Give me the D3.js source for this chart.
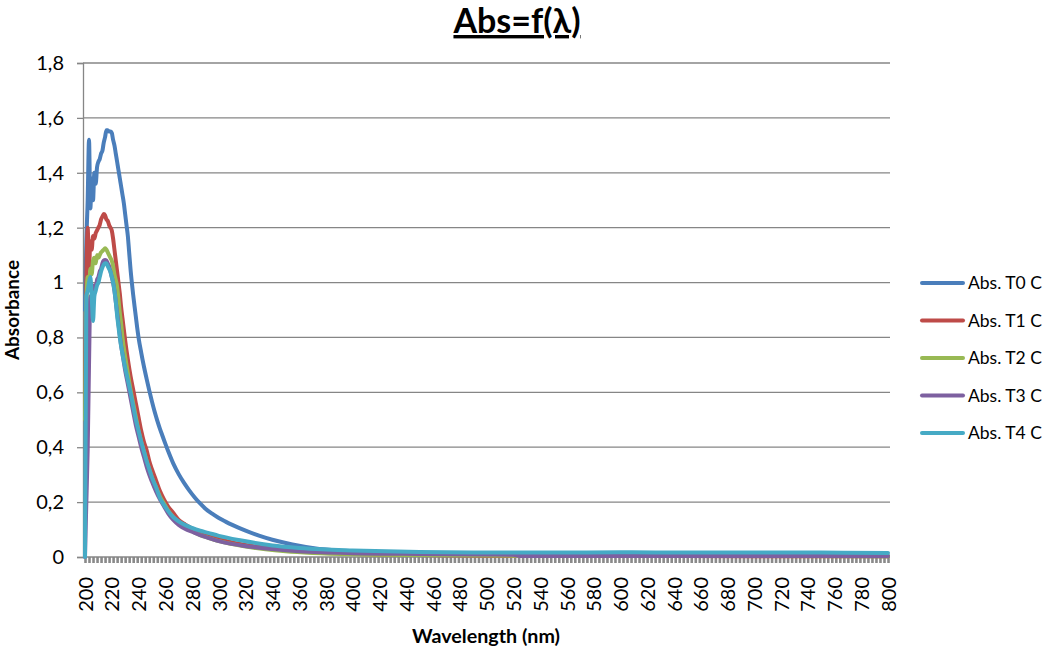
<!DOCTYPE html>
<html>
<head>
<meta charset="utf-8">
<script src="https://cdn.jsdelivr.net/npm/d3@7/dist/d3.min.js"></script>
<style>
  html, body { margin: 0; padding: 0; background: #fff; }
  svg { display: block; }
  text { font-family: Lato, "Open Sans", sans-serif; fill: #000; }
</style>
</head>
<body>
<svg id="chart" width="1044" height="648"></svg>
<script>
// ---- data (wavelength nm, absorbance) ----
const seriesNames = ["Abs. T0 C", "Abs. T1 C", "Abs. T2 C", "Abs. T3 C", "Abs. T4 C"];
const seriesColors = ["#4A7EBB", "#BE4B48", "#98B954", "#7D60A0", "#46AAC5"];

const absT0 = [[200,0.90],[201,1.15],[202,1.30],[203,1.52],[204,1.27],[205,1.38],[206,1.30],[207,1.40],[208,1.36],[209,1.42],[210,1.44],[211,1.45],[212,1.47],[213,1.48],[214,1.51],[215,1.53],[216,1.555],[217,1.555],[218,1.55],[219,1.55],[220,1.545],[221,1.52],[222,1.50],[223,1.47],[224,1.44],[225,1.41],[226,1.38],[227,1.35],[228,1.32],[229,1.29],[230,1.25],[231,1.21],[232,1.17],[233,1.11],[234,1.05],[235,1.00],[236,0.955],[237,0.915],[238,0.875],[239,0.835],[240,0.80],[242,0.745],[244,0.695],[246,0.65],[248,0.607],[250,0.567],[252,0.53],[254,0.497],[256,0.467],[258,0.44],[260,0.413],[263,0.375],[266,0.34],[270,0.302],[274,0.27],[278,0.242],[282,0.217],[286,0.195],[290,0.176],[295,0.158],[300,0.142],[305,0.129],[310,0.117],[315,0.106],[320,0.096],[330,0.078],[340,0.063],[350,0.051],[360,0.041],[370,0.033],[380,0.027],[390,0.023],[400,0.02],[450,0.012],[500,0.008],[600,0.005],[700,0.004],[800,0.003]];

const absT1 = [[200,0.50],[201,1.00],[202,1.20],[203,1.05],[204,1.15],[205,1.12],[206,1.17],[207,1.16],[208,1.18],[209,1.19],[210,1.20],[211,1.21],[212,1.23],[213,1.24],[214,1.25],[215,1.245],[216,1.23],[217,1.225],[218,1.21],[219,1.20],[220,1.19],[221,1.16],[222,1.12],[223,1.08],[224,1.04],[225,1.00],[226,0.96],[227,0.91],[228,0.87],[229,0.83],[230,0.79],[232,0.72],[234,0.66],[236,0.61],[238,0.56],[240,0.51],[242,0.46],[244,0.42],[246,0.39],[248,0.35],[250,0.32],[253,0.28],[256,0.24],[259,0.21],[262,0.185],[266,0.16],[270,0.135],[275,0.118],[280,0.104],[285,0.092],[292,0.078],[300,0.065],[310,0.053],[320,0.044],[335,0.034],[350,0.026],[370,0.019],[400,0.012],[450,0.007],[500,0.005],[600,0.004],[700,0.003],[800,0.003]];

const absT2 = [[200,0.50],[201,0.90],[202,1.02],[203,0.98],[204,1.05],[205,1.03],[206,1.08],[207,1.09],[208,1.07],[209,1.10],[210,1.09],[211,1.10],[212,1.11],[213,1.115],[214,1.12],[215,1.125],[216,1.12],[217,1.11],[218,1.10],[219,1.09],[220,1.08],[221,1.06],[222,1.03],[223,1.01],[224,0.985],[225,0.94],[226,0.89],[227,0.85],[228,0.80],[230,0.73],[232,0.67],[234,0.61],[236,0.56],[238,0.51],[240,0.46],[242,0.42],[244,0.385],[246,0.35],[248,0.32],[250,0.29],[253,0.255],[256,0.22],[259,0.195],[262,0.17],[266,0.145],[270,0.125],[275,0.108],[280,0.094],[286,0.08],[292,0.07],[300,0.058],[310,0.047],[320,0.038],[335,0.028],[350,0.021],[370,0.015],[400,0.010],[450,0.007],[520,0.005],[600,0.004],[800,0.003]];

const absT3 = [[200,0.00],[201,0.20],[202,0.39],[203,0.70],[204,0.95],[205,0.92],[206,0.97],[207,0.99],[208,0.98],[209,1.01],[210,1.02],[211,1.04],[212,1.05],[213,1.07],[214,1.08],[215,1.082],[216,1.08],[217,1.07],[218,1.06],[219,1.04],[220,1.02],[221,1.00],[222,0.97],[223,0.93],[224,0.89],[225,0.85],[226,0.81],[227,0.77],[228,0.74],[230,0.68],[232,0.63],[234,0.58],[236,0.53],[238,0.48],[240,0.44],[242,0.40],[244,0.365],[246,0.33],[248,0.30],[250,0.275],[253,0.24],[256,0.21],[259,0.185],[262,0.16],[266,0.135],[270,0.117],[275,0.102],[280,0.092],[286,0.08],[292,0.07],[300,0.058],[317,0.042],[340,0.029],[360,0.021],[377,0.017],[400,0.014],[450,0.011],[500,0.009],[520,0.008],[525,0.004],[600,0.004],[800,0.004]];

const absT4 = [[200,0.00],[201,0.95],[202,0.97],[203,1.00],[204,1.02],[205,0.95],[206,0.86],[207,0.95],[208,0.97],[209,0.99],[210,1.00],[211,1.02],[212,1.04],[213,1.055],[214,1.065],[215,1.07],[216,1.07],[217,1.06],[218,1.05],[219,1.04],[220,1.02],[221,1.00],[222,0.97],[223,0.93],[224,0.88],[225,0.84],[226,0.80],[228,0.74],[230,0.69],[232,0.645],[234,0.60],[236,0.55],[238,0.50],[240,0.46],[242,0.42],[244,0.385],[246,0.35],[248,0.32],[250,0.29],[253,0.255],[256,0.215],[259,0.19],[262,0.168],[266,0.145],[270,0.13],[275,0.116],[280,0.106],[286,0.096],[292,0.088],[300,0.077],[317,0.06],[340,0.042],[360,0.033],[377,0.028],[400,0.024],[450,0.018],[500,0.016],[550,0.016],[600,0.017],[650,0.016],[700,0.016],[750,0.016],[800,0.015]];

const allSeries = [absT0, absT1, absT2, absT3, absT4];
const yTickValues = [0, 0.2, 0.4, 0.6, 0.8, 1, 1.2, 1.4, 1.6, 1.8];
const xLabelValues = [200,220,240,260,280,300,320,340,360,380,400,420,440,460,480,500,520,540,560,580,600,620,640,660,680,700,720,740,760,780,800];

// ---- layout ----
const svg = d3.select("#chart");
const plotLeft = 83, plotRight = 890, plotTop = 63, plotBottom = 557;
const x = d3.scaleLinear().domain([200, 800]).range([85, 888]);
const y = d3.scaleLinear().domain([0, 1.8]).range([plotBottom, plotTop]);
const fmt = d => String(d).replace(".", ",");
const gridColor = "#868686";

// fit a text's font size so it spans a target width
function fitWidth(sel, target, maxSize) {
  sel.each(function () {
    const t = d3.select(this);
    const w = this.getComputedTextLength();
    const cur = +t.attr("font-size");
    if (w > 0) t.attr("font-size", Math.min(maxSize, cur * target / w));
  });
}

// gridlines
svg.append("g")
  .selectAll("line").data(yTickValues.filter(d => d > 0)).join("line")
  .attr("x1", plotLeft).attr("x2", plotRight)
  .attr("y1", d => y(d)).attr("y2", d => y(d))
  .attr("stroke", gridColor).attr("stroke-width", 1.3);

// y axis
const yAxis = svg.append("g").attr("transform", `translate(${plotLeft},0)`)
  .call(d3.axisLeft(y).tickValues(yTickValues).tickFormat(fmt).tickSize(6).tickPadding(13));
yAxis.select(".domain").attr("stroke", gridColor).attr("stroke-width", 1.3);
yAxis.selectAll(".tick line").attr("stroke", gridColor).attr("stroke-width", 1.3);
yAxis.selectAll(".tick text").attr("font-size", 20).attr("font-family", "Lato");

// x axis tick marks (dense category ticks)
const xTicks = d3.range(200, 801, 3);
const xAxisMarks = svg.append("g").attr("transform", `translate(0,${plotBottom})`)
  .call(d3.axisBottom(x).tickValues(xTicks).tickFormat("").tickSize(6).tickSizeOuter(0));
xAxisMarks.select(".domain").remove();
xAxisMarks.selectAll(".tick line").attr("stroke", "#8a8a8a").attr("stroke-width", 2.6);

svg.append("line").attr("x1", plotLeft).attr("x2", plotRight)
  .attr("y1", plotBottom).attr("y2", plotBottom)
  .attr("stroke", gridColor).attr("stroke-width", 1.3);

// x labels
const xLab = svg.append("g").attr("transform", `translate(0,${plotBottom})`)
  .call(d3.axisBottom(x).tickValues(xLabelValues).tickFormat(d3.format("d")).tickSize(0));
xLab.select(".domain").remove();
xLab.selectAll(".tick text")
  .attr("font-size", 20).attr("font-family", "Lato")
  .attr("text-anchor", "end")
  .attr("transform", "rotate(-90)")
  .attr("x", -20).attr("y", 0).attr("dy", "0.36em");

// series lines
const line = d3.line().x(d => x(d[0])).y(d => y(d[1])).curve(d3.curveMonotoneX);
svg.append("g").selectAll("path").data(allSeries).join("path")
  .attr("d", line)
  .attr("fill", "none")
  .attr("stroke", (d, i) => seriesColors[i])
  .attr("stroke-width", 4)
  .attr("stroke-linejoin", "round")
  .attr("stroke-linecap", "round");

// title
svg.append("text").attr("x", 517).attr("y", 33).attr("text-anchor", "middle")
  .attr("font-size", 34).attr("font-weight", "bold").attr("text-decoration", "underline")
  .text("Abs=f(λ)");

// axis titles
svg.append("text").attr("x", 486).attr("y", 643).attr("text-anchor", "middle")
  .attr("font-size", 20).attr("font-weight", "bold").text("Wavelength (nm)")
  .call(fitWidth, 148, 21);
svg.append("text").attr("transform", "translate(19,310) rotate(-90)").attr("text-anchor", "middle")
  .attr("font-size", 20).attr("font-weight", "bold").text("Absorbance")
  .call(fitWidth, 100, 21);

// legend
const leg = svg.append("g").selectAll("g").data(seriesNames).join("g")
  .attr("transform", (d, i) => `translate(0,${283 + i * 37.5})`);
leg.append("line").attr("x1", 922).attr("x2", 963).attr("y1", 0).attr("y2", 0)
  .attr("stroke", (d, i) => seriesColors[i]).attr("stroke-width", 4).attr("stroke-linecap", "round");
leg.append("text").attr("x", 968).attr("y", 0).attr("dy", "0.36em")
  .attr("font-size", 19).text(d => d)
  .call(fitWidth, 74, 19);
</script>
</body>
</html>
